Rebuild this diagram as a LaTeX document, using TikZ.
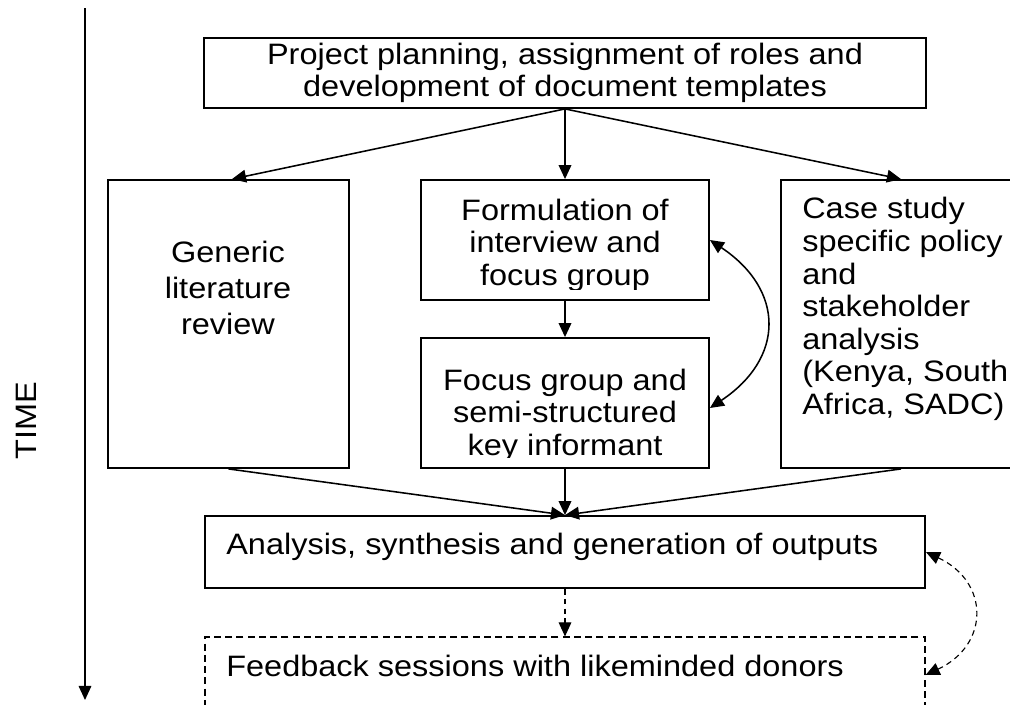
\documentclass[tikz,border=0pt]{standalone}
\usepackage{fontspec}
\setmainfont[FakeStretch=1.1]{Liberation Sans}
\usetikzlibrary{arrows.meta}

\tikzset{
  box/.style={draw,line width=1.3pt,inner sep=0pt},
  dashbox/.style={box,line width=0.8pt,dash pattern=on 5pt off 3pt},
  txt/.style={inner sep=0pt,align=center,font=\fontsize{21}{23.2}\selectfont},
  tip/.style={Triangle[length=10pt,width=9pt]},
  flow/.style={line width=1.1pt,-{Triangle[length=10pt,width=9pt]}},
  loop/.style={line width=1.1pt,{Triangle[length=10pt,width=9pt]}-{Triangle[length=10pt,width=9pt]}},
  fb/.style={line width=0.8pt,dash pattern=on 4pt off 3pt},
}

\begin{document}
\begin{tikzpicture}[x=0.025cm,y=-0.025cm]
  \useasboundingbox (0,0) rectangle (1010,704);

  % time axis
  \coordinate (t0) at (85,8);
  \coordinate (t1) at (85,700);
  \draw[flow,line width=0.9pt] (t0) -- (t1);
  \node[txt,rotate=90] (time) at (26,421) {TIME};

  % boxes
  \node[box,txt,minimum width=722*0.025cm,minimum height=70*0.025cm] (plan) at (565,73)
    {Project planning, assignment of roles and\\development of document templates};
  \node[box,minimum width=241*0.025cm,minimum height=288*0.025cm] (lit) at (228.5,324) {};
  \node[box,minimum width=288*0.025cm,minimum height=120*0.025cm] (form) at (565,240) {};
  \node[box,minimum width=288*0.025cm,minimum height=130*0.025cm] (focus) at (565,403) {};
  \node[box,minimum width=240*0.025cm,minimum height=288*0.025cm] (case) at (901,324) {};
  \node[box,minimum width=720*0.025cm,minimum height=72*0.025cm] (anal) at (565,552) {};
  \node[dashbox,minimum width=720*0.025cm,minimum height=72*0.025cm] (feed) at (565,673) {};

  % box texts (the two middle ones are cut off at the bottom)
  \node[txt,font=\fontsize{21}{25.5}\selectfont] (lit-t) at (228,288) {Generic\\literature\\review};
  \begin{scope}
    \clip (425,184) rectangle (705,289);
    \node[txt] (form-t) at (565,245) {Formulation of\\interview and\\focus group};
  \end{scope}
  \begin{scope}
    \clip (425,342) rectangle (705,457);
    \node[txt] (focus-t) at (565,415) {Focus group and\\semi-structured\\key informant};
  \end{scope}
  \node[txt,align=left,anchor=west] (case-t) at (802,309)
    {Case study\\specific policy\\and\\stakeholder\\analysis\\(Kenya, South\\Africa, SADC)};
  \node[txt,anchor=west] (anal-t) at (226,547) {Analysis, synthesis and generation of outputs};
  \node[txt,anchor=west] (feed-t) at (226,666) {Feedback sessions with likeminded donors};

  % connectors
  \draw[flow] (plan.south) -- ([xshift=3.5*0.025cm]lit.north);
  \draw[flow] (plan.south) -- (form.north);
  \draw[flow] (plan.south) -- (case.north);
  \draw[flow] (form.south) -- (focus.north);
  \draw[flow] (lit.south) -- (anal.north);
  \draw[flow] (focus.south) -- (anal.north);
  \draw[flow] (case.south) -- (anal.north);
  \draw[loop] (form.east) .. controls +(75,50) and +(75,-50) .. ([yshift=-5*0.025cm]focus.east);

  % feedback loop
  \draw[flow,fb] (anal.south) -- (feed.north);
  \draw[loop,fb] (anal.east) .. controls +(64,30) and +(64,-30) .. ([yshift=-2*0.025cm]feed.east);
\end{tikzpicture}
\end{document}
